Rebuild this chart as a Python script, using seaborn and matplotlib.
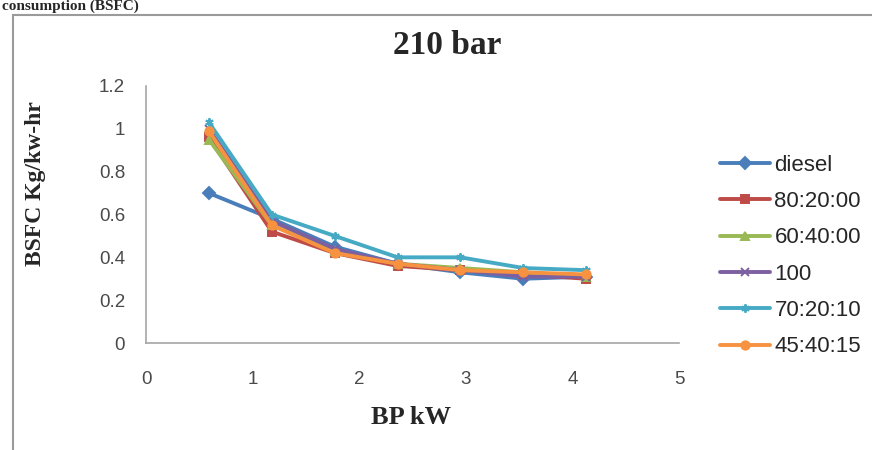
import numpy as np
import matplotlib.pyplot as plt
import matplotlib.patches as mpatches
import pandas as pd
import seaborn as sns

# BP (kW) load points
bp = [0.59, 1.18, 1.77, 2.36, 2.95, 3.54, 4.13]

# BSFC values (Kg/kw-hr)
diesel = [0.70, 0.58, 0.45, 0.37, 0.33, 0.30, 0.31]
b80_20_00 = [0.96, 0.52, 0.42, 0.36, 0.34, 0.32, 0.30]
b60_40_00 = [0.95, 0.55, 0.43, 0.37, 0.35, 0.33, 0.31]
b100 = [1.00, 0.57, 0.44, 0.37, 0.34, 0.31, 0.31]
b70_20_10 = [1.03, 0.60, 0.50, 0.40, 0.40, 0.35, 0.34]
b45_40_15 = [0.99, 0.55, 0.42, 0.37, 0.34, 0.33, 0.32]

series_names = ["diesel", "80:20:00", "60:40:00", "100", "70:20:10", "45:40:15"]
series_vals = [diesel, b80_20_00, b60_40_00, b100, b70_20_10, b45_40_15]

colors = ["#4A7EBB", "#BE4B48", "#98B954", "#7D60A0", "#46AAC5", "#F69240"]
markers = ["D", "s", "^", "x", (6, 2, 0), "o"]

rows = []
for name, vals in zip(series_names, series_vals):
    for x, y in zip(bp, vals):
        rows.append({"BP": x, "BSFC": y, "blend": name})
df = pd.DataFrame(rows)

sns.set_style("white")
plt.rcParams["font.family"] = ["Liberation Sans", "DejaVu Sans"]
serif = ["Liberation Serif", "DejaVu Serif"]

fig = plt.figure(figsize=(8.72, 4.5), dpi=100)
ax = fig.add_axes([146 / 872, 1 - 343 / 450, (679 - 146) / 872, (343 - 86) / 450])

# one call per blend, since filled and line-art markers can't be mixed in one style map
for name, c, m in zip(series_names, colors, markers):
    sub = df[df["blend"] == name]
    sns.lineplot(data=sub, x="BP", y="BSFC", color=c, marker=m,
                 markersize=9, markeredgewidth=1.4, markeredgecolor=c,
                 linewidth=2.8, label=name, ax=ax)

ax.set_xlim(0, 5)
ax.set_ylim(0, 1.2)
ax.set_xticks(range(0, 6))
ax.set_yticks(np.arange(0, 1.21, 0.2))
ax.set_yticklabels(["0", "0.2", "0.4", "0.6", "0.8", "1", "1.2"])
for s in ["top", "right"]:
    ax.spines[s].set_visible(False)
for s in ["left", "bottom"]:
    ax.spines[s].set_color("#A6A6A6")
    ax.spines[s].set_linewidth(1.2)
ax.tick_params(axis="both", direction="out", length=5, color="#A6A6A6",
               labelsize=13.5, labelcolor="#4A4A4A", pad=10)
ax.tick_params(axis="x", pad=15)

ax.set_xlabel("BP kW", fontsize=19, fontweight="bold", family=serif)
ax.set_ylabel("BSFC Kg/kw-hr", fontsize=17, fontweight="bold", family=serif)
ax.xaxis.set_label_coords(0.497, -0.288)
ax.yaxis.set_label_coords(-0.208, 0.62)
ax.xaxis.label.set_va("center")
ax.yaxis.label.set_va("center")

handles, labels = ax.get_legend_handles_labels()
for h in handles:
    h.set_markersize(6)
ax.legend(handles, labels, loc="center left", bbox_to_anchor=(720 / 872, 1 - 256 / 450),
          bbox_transform=fig.transFigure, frameon=False, fontsize=16,
          handlelength=2.25, handletextpad=0.2, labelspacing=0.69,
          borderaxespad=0, borderpad=0)

fig.text(393 / 872, 1 - 45 / 450, "210 bar", ha="left", va="center",
         fontsize=24, fontweight="bold", family=serif)

# heading above the chart frame
fig.text(2 / 872, 1.0, "consumption (BSFC)", ha="left", va="top",
         fontsize=11, fontweight="bold", family=serif)

# chart area frame
frame = mpatches.Rectangle((13 / 872, -0.05), 1.0, 1 - 15 / 450 + 0.05,
                           transform=fig.transFigure, fill=False,
                           edgecolor="#9A9A9A", linewidth=1.5)
fig.patches.append(frame)

fig.savefig("out.png", dpi=100)
